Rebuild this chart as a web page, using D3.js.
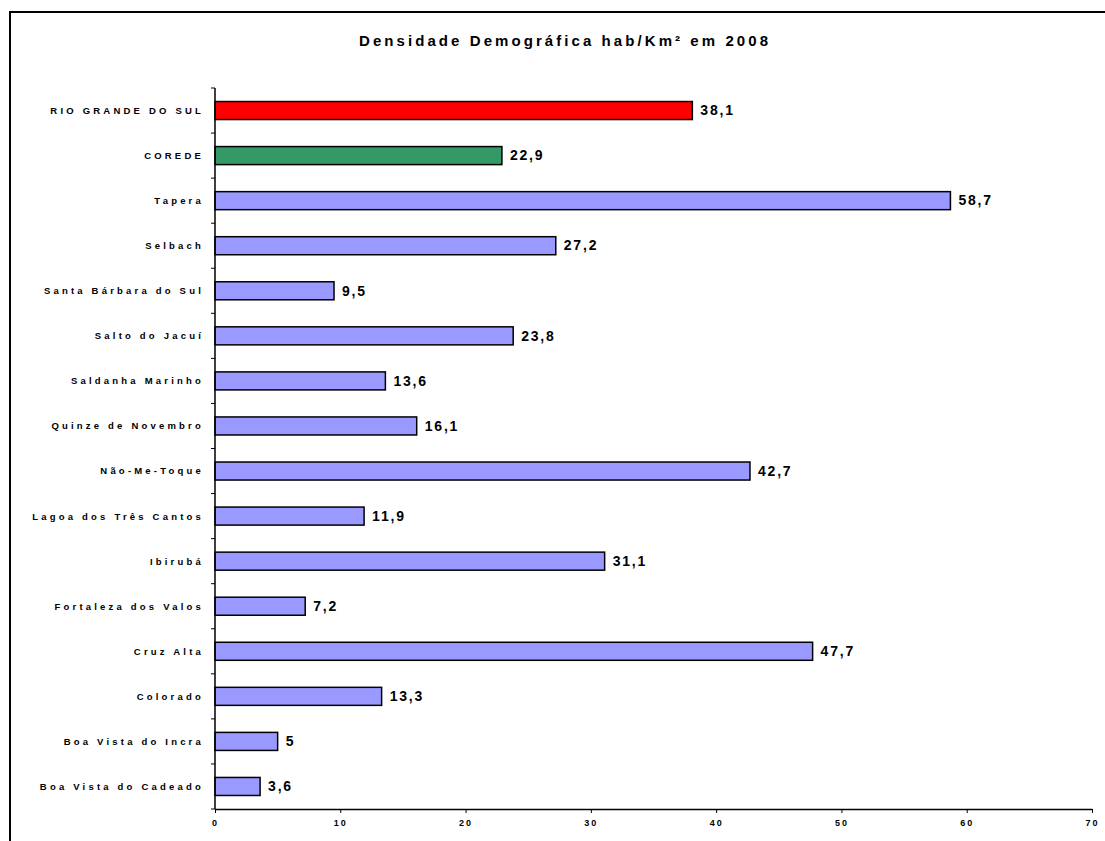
<!DOCTYPE html>
<html>
<head>
<meta charset="utf-8">
<script src="https://cdn.jsdelivr.net/npm/d3@7"></script>
<style>
  html, body { margin: 0; padding: 0; background: #fff; }
  svg { display: block; font-family: "Liberation Sans", Arial, sans-serif; }
</style>
</head>
<body>
<svg id="chart" width="1105" height="841"></svg>
<script>
// Population density (inhabitants per km²) in 2008
const categories = [
  "RIO GRANDE DO SUL", "COREDE", "Tapera", "Selbach", "Santa Bárbara do Sul",
  "Salto do Jacuí", "Saldanha Marinho", "Quinze de Novembro", "Não-Me-Toque",
  "Lagoa dos Três Cantos", "Ibirubá", "Fortaleza dos Valos", "Cruz Alta",
  "Colorado", "Boa Vista do Incra", "Boa Vista do Cadeado"
];
const values = [38.1, 22.9, 58.7, 27.2, 9.5, 23.8, 13.6, 16.1, 42.7, 11.9, 31.1, 7.2, 47.7, 13.3, 5, 3.6];
const xTicks = [0, 10, 20, 30, 40, 50, 60, 70];
const barColors = ["#FF0000", "#339966"];
const defaultColor = "#9999FF";
const title = "Densidade Demográfica hab/Km² em 2008";

const svg = d3.select("#chart");
const margin = { left: 215, top: 88 };
const axisBottom = 809;

// outer frame (runs past the right and bottom edges)
svg.append("rect")
  .attr("x", 10).attr("y", 12)
  .attr("width", 1110).attr("height", 850)
  .attr("fill", "none").attr("stroke", "#000").attr("stroke-width", 2);

const x = d3.scaleLinear().domain([0, 70]).range([margin.left, 1092]);
const y = d3.scaleBand().domain(categories).range([margin.top, axisBottom]).paddingInner(0.6).paddingOuter(0.3);

svg.append("text")
  .attr("x", 359).attr("y", 46)
  .attr("font-size", 15).attr("font-weight", "bold")
  .attr("textLength", 409).attr("lengthAdjust", "spacing")
  .text(title);

// bars
svg.append("g").selectAll("rect")
  .data(values)
  .join("rect")
  .attr("x", x(0))
  .attr("y", (d, i) => y(categories[i]))
  .attr("width", d => x(d) - x(0))
  .attr("height", y.bandwidth())
  .attr("fill", (d, i) => barColors[i] || defaultColor)
  .attr("stroke", "#000").attr("stroke-width", 1.5);

// value labels
const fmt = v => String(v).replace(".", ",");
svg.append("g").selectAll("text")
  .data(values)
  .join("text")
  .attr("x", d => x(d) + 8)
  .attr("y", (d, i) => y(categories[i]) + y.bandwidth() / 2)
  .attr("dy", "0.34em")
  .attr("font-size", 14).attr("font-weight", "bold")
  .attr("letter-spacing", 1.8)
  .text(fmt);

// y axis with ticks on band boundaries
const yAxis = svg.append("g");
yAxis.append("line")
  .attr("x1", margin.left).attr("x2", margin.left)
  .attr("y1", margin.top).attr("y2", axisBottom)
  .attr("stroke", "#000").attr("stroke-width", 1.5);
const step = (axisBottom - margin.top) / categories.length;
yAxis.selectAll("line.tick")
  .data(d3.range(categories.length + 1))
  .join("line")
  .attr("class", "tick")
  .attr("x1", margin.left - 4).attr("x2", margin.left)
  .attr("y1", i => margin.top + i * step).attr("y2", i => margin.top + i * step)
  .attr("stroke", "#000").attr("stroke-width", 1);
yAxis.selectAll("text")
  .data(categories)
  .join("text")
  .attr("x", 204)
  .attr("y", d => y(d) + y.bandwidth() / 2)
  .attr("dy", "0.36em")
  .attr("text-anchor", "end")
  .attr("font-size", 9.5).attr("font-weight", "bold")
  .attr("letter-spacing", 3.2)
  .text(d => d);

// x axis
const xAxis = svg.append("g")
  .attr("transform", `translate(0,${axisBottom})`)
  .call(d3.axisBottom(x).tickValues(xTicks).tickSize(4).tickSizeOuter(0));
xAxis.select(".domain").attr("stroke", "#000").attr("stroke-width", 1.5);
xAxis.selectAll(".tick line").attr("stroke", "#000");
xAxis.selectAll(".tick text")
  .attr("font-size", 9).attr("font-weight", "bold")
  .attr("letter-spacing", 2)
  .attr("font-family", "Liberation Sans, Arial, sans-serif")
  .attr("fill", "#000")
  .attr("y", 11);
</script>
</body>
</html>
